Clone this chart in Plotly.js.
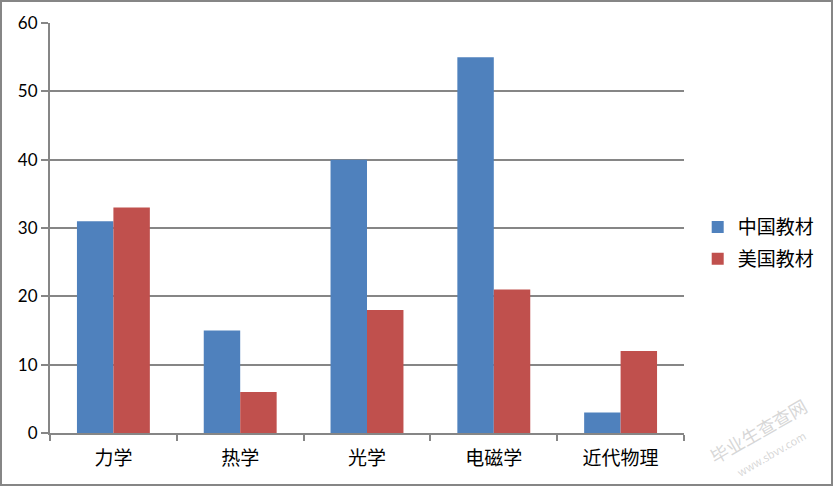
<!DOCTYPE html>
<html><head><meta charset="utf-8">
<script src="https://cdn.plot.ly/plotly-3.0.1.min.js"></script>
<style>html,body{margin:0;padding:0;background:#fff;}#chart{width:833px;height:486px;box-sizing:border-box;border:2px solid #868686;}</style>
</head><body><div id="chart"></div>
<script>
const categories = ['力学','热学','光学','电磁学','近代物理'];
const chinaValues = [31, 15, 40, 55, 3];
const usaValues = [33, 6, 18, 21, 12];
const seriesNames = ['中国教材','美国教材'];
const yTicks = [0,10,20,30,40,50,60];

const cjk = '"Noto Sans CJK SC", sans-serif';
const traces = [
  {type:'bar', x:categories, y:chinaValues, name:seriesNames[0], legendgroup:'a', marker:{color:'#4F81BD'}},
  {type:'bar', x:categories, y:usaValues, name:seriesNames[1], legendgroup:'b', marker:{color:'#C0504D'}}
];
const layout = {
  width:829, height:482,
  margin:{l:48, r:146, t:21, b:51, pad:0},
  paper_bgcolor:'#fff', plot_bgcolor:'#fff',
  barmode:'group', bargap:0.425, bargroupgap:0,
  showlegend:true,
  legend:{x:1.02, y:0.463, xanchor:'left', yanchor:'middle', font:{family:cjk, size:19, color:'#000'},
          traceorder:'grouped', tracegroupgap:4, itemwidth:30},
  xaxis:{type:'category', tickson:'boundaries', ticks:'outside', ticklen:6, tickwidth:2, tickcolor:'#868686',
         showline:true, linecolor:'#868686', linewidth:2, showgrid:false, ticklabelstandoff:7,
         tickfont:{family:cjk, size:19, color:'#000'}, fixedrange:true},
  yaxis:{range:[0,60], tickvals:yTicks, ticks:'outside', ticklen:7, tickwidth:2, tickcolor:'#868686',
         showline:true, linecolor:'#868686', linewidth:2, showgrid:true, gridcolor:'#868686', gridwidth:2,
         zeroline:false, tickfont:{family:'Lato, "Open Sans", sans-serif', size:17, color:'#000'}, fixedrange:true},
  annotations:[{xref:'paper', yref:'paper', x:1.125, y:-0.015, xanchor:'center', yanchor:'middle',
     text:'毕业生查查网<br><span style="font-size:11px">www.sbvv.com</span>', showarrow:false,
     textangle:-30, font:{family:cjk, size:18, color:'rgba(175,175,175,0.5)'}}]
};
Plotly.newPlot('chart', traces, layout, {displayModeBar:false, staticPlot:true});
</script></body></html>
